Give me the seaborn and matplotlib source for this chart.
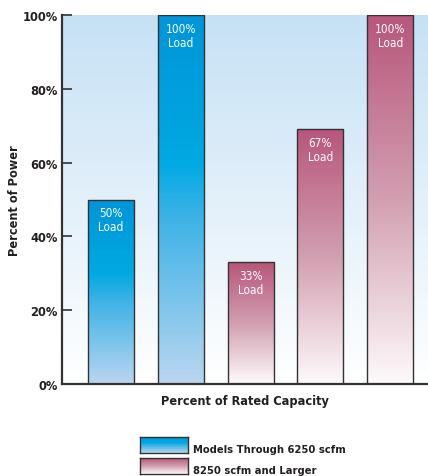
import numpy as np
import pandas as pd
import matplotlib
matplotlib.use('Agg')
import matplotlib.pyplot as plt
from matplotlib.colors import LinearSegmentedColormap
import seaborn as sns

# Chart data
bar_pos = [0, 1, 2, 3, 4]
power = [50, 100, 33, 69, 100]
load_labels = ['50%\nLoad', '100%\nLoad', '33%\nLoad', '67%\nLoad', '100%\nLoad']
series = ['Models Through 6250 scfm', 'Models Through 6250 scfm',
          '8250 scfm and Larger', '8250 scfm and Larger', '8250 scfm and Larger']
y_ticks = [0, 20, 40, 60, 80, 100]

df = pd.DataFrame({'pos': bar_pos, 'power': power, 'label': load_labels, 'series': series})

sns.set_style('white')
plt.rcParams['font.family'] = ['DejaVu Sans']
plt.rcParams['font.stretch'] = 'condensed'

# Gradients (top -> bottom)
blue_cmap = LinearSegmentedColormap.from_list(
    'blue', [(0, '#0095d8'), (0.4, '#00a9e2'), (0.55, '#3db2e6'), (1, '#bad6f0')])
pink_cmap = LinearSegmentedColormap.from_list(
    'pink', [(0, '#b8567a'), (0.5, '#d29fb1'), (1, '#fefafb')])
bg_cmap = LinearSegmentedColormap.from_list('bg', ['#c6e1f5', '#ffffff'])
cmaps = {'Models Through 6250 scfm': blue_cmap, '8250 scfm and Larger': pink_cmap}
grad = np.linspace(0, 1, 256).reshape(-1, 1)

fig = plt.figure(figsize=(4.28, 4.77), dpi=100)
ax = fig.add_axes([62 / 428, 92 / 477, 366 / 428, 369 / 477])

sns.barplot(data=df, x='pos', y='power', width=0.66, color='white',
            edgecolor='#333333', linewidth=1.0, ax=ax)

xlim = (-0.70, 4.54)
ylim = (0, 100)

# background gradient
ax.imshow(grad, cmap=bg_cmap, extent=(xlim[0], xlim[1], ylim[0], ylim[1]),
          aspect='auto', origin='upper', zorder=0.1)

for patch, s, lab in zip(ax.patches, df['series'], df['label']):
    x0, y0 = patch.get_x(), patch.get_y()
    w, h = patch.get_width(), patch.get_height()
    patch.set_facecolor('none')
    patch.set_zorder(2)
    im = ax.imshow(grad, cmap=cmaps[s], extent=(x0, x0 + w, y0, y0 + h),
                   aspect='auto', origin='upper', zorder=1)
    im.set_clip_path(patch)
    ax.annotate(lab, (x0 + w / 2, y0 + h), xytext=(0, -5), textcoords='offset points',
                ha='center', va='top', color='white', fontsize=8.5, linespacing=1.1, zorder=3)

ax.set_xlim(*xlim)
ax.set_ylim(*ylim)

ax.set_yticks(y_ticks)
ax.set_yticklabels([f'{t}%' for t in y_ticks], fontweight='bold', color='#231f20')
ax.set_xticks([])
ax.tick_params(axis='y', direction='in', length=7, width=1.2, color='#333333',
               labelsize=9.2, pad=3, left=True)

for side in ['top', 'right']:
    ax.spines[side].set_visible(False)
for side in ['left', 'bottom']:
    ax.spines[side].set_color('#333333')
    ax.spines[side].set_linewidth(1.6)

ax.set_xlabel('Percent of Rated Capacity', fontsize=9.1, fontweight='bold',
              color='#231f20', labelpad=7)
ax.set_ylabel('Percent of Power', fontsize=9.1, fontweight='bold', color='#231f20')
ax.yaxis.set_label_coords(-0.112, 0.5)

# Legend with gradient swatches
legend_items = ['Models Through 6250 scfm', '8250 scfm and Larger']
for i, name in enumerate(legend_items):
    top_px = 438 + i * 21
    sw = fig.add_axes([140 / 428, (477 - top_px - 16) / 477, 48 / 428, 16 / 477])
    sw.imshow(grad, cmap=cmaps[name], aspect='auto', origin='upper')
    sw.set_xticks([])
    sw.set_yticks([])
    for sp in sw.spines.values():
        sp.set_color('#333333')
        sp.set_linewidth(1.0)
    fig.text(193 / 428, (477 - top_px - 12.5) / 477, name, fontsize=8, fontweight='bold',
             color='#231f20', va='center', ha='left')

fig.savefig('out.png', dpi=100)
